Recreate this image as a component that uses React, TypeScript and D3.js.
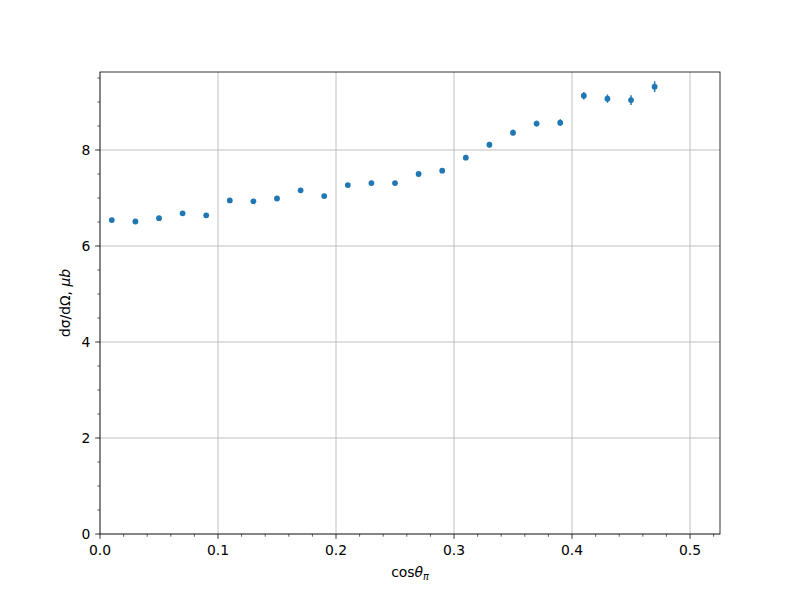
import React from "react";
import * as d3 from "d3";

const xValues = [0.01, 0.03, 0.05, 0.07, 0.09, 0.11, 0.13, 0.15, 0.17, 0.19, 0.21, 0.23, 0.25, 0.27, 0.29, 0.31, 0.33, 0.35, 0.37, 0.39, 0.41, 0.43, 0.45, 0.47];
const yValues = [6.54, 6.51, 6.58, 6.68, 6.64, 6.95, 6.93, 6.99, 7.16, 7.04, 7.27, 7.31, 7.31, 7.50, 7.57, 7.84, 8.11, 8.36, 8.55, 8.57, 9.13, 9.07, 9.04, 9.32];
const yErrors = [0.03, 0.03, 0.03, 0.03, 0.03, 0.03, 0.03, 0.03, 0.04, 0.04, 0.04, 0.04, 0.04, 0.05, 0.05, 0.05, 0.06, 0.06, 0.06, 0.07, 0.08, 0.085, 0.1, 0.11];
const xTicks = [0, 0.1, 0.2, 0.3, 0.4, 0.5];
const yTicks = [0, 2, 4, 6, 8];

const W = 800, H = 600;
const L = 100, R = 720, T = 72, B = 534;
const FONT = "DejaVu Sans, sans-serif";
const FS = 13.9;
const BLUE = "#1f77b4";

export default function App() {
  const x = d3.scaleLinear().domain([0, 0.5254]).range([L, R]);
  const y = d3.scaleLinear().domain([0, 9.625]).range([B, T]);
  const xMinor = d3.range(0, 0.525, 0.02).filter((v) => Math.abs(v * 10 - Math.round(v * 10)) > 1e-6);
  const yMinor = d3.range(0, 9.6, 0.5).filter((v) => Math.abs(v / 2 - Math.round(v / 2)) > 1e-6);
  const majorLen = 4.86, minorLen = 2.78;
  return (
    <div style={{ position: "absolute", left: 0, top: 0 }}>
      <svg width={W} height={H} style={{ display: "block", background: "#fff" }}>
        <rect x={0} y={0} width={W} height={H} fill="#fff" />
        {/* grid */}
        {xTicks.map((t) => (
          <line key={"gx" + t} x1={x(t)} x2={x(t)} y1={T} y2={B} stroke="#b0b0b0" strokeWidth={0.8} />
        ))}
        {yTicks.map((t) => (
          <line key={"gy" + t} x1={L} x2={R} y1={y(t)} y2={y(t)} stroke="#b0b0b0" strokeWidth={0.8} />
        ))}
        {/* error bars */}
        {xValues.map((xv, i) => (
          <line key={"e" + i} x1={x(xv)} x2={x(xv)} y1={y(yValues[i] - yErrors[i])} y2={y(yValues[i] + yErrors[i])} stroke={BLUE} strokeWidth={1.5} />
        ))}
        {xValues.map((xv, i) => (
          <circle key={"p" + i} cx={x(xv)} cy={y(yValues[i])} r={2.9} fill={BLUE} />
        ))}
        {/* spines */}
        <rect x={L} y={T} width={R - L} height={B - T} fill="none" stroke="#000" strokeWidth={0.8} />
        {/* x ticks */}
        {xTicks.map((t) => (
          <g key={"xt" + t}>
            <line x1={x(t)} x2={x(t)} y1={B} y2={B + majorLen} stroke="#000" strokeWidth={0.8} />
            <text x={x(t)} y={B + majorLen + 4.86 + 11} textAnchor="middle" fontFamily={FONT} fontSize={FS}>{t.toFixed(1)}</text>
          </g>
        ))}
        {xMinor.map((t) => (
          <line key={"xm" + t} x1={x(t)} x2={x(t)} y1={B} y2={B + minorLen} stroke="#000" strokeWidth={0.6} />
        ))}
        {/* y ticks */}
        {yTicks.map((t) => (
          <g key={"yt" + t}>
            <line x1={L - majorLen} x2={L} y1={y(t)} y2={y(t)} stroke="#000" strokeWidth={0.8} />
            <text x={L - majorLen - 4.86} y={y(t) + 5} textAnchor="end" fontFamily={FONT} fontSize={FS}>{t}</text>
          </g>
        ))}
        {yMinor.map((t) => (
          <line key={"ym" + t} x1={L - minorLen} x2={L} y1={y(t)} y2={y(t)} stroke="#000" strokeWidth={0.6} />
        ))}
        {/* x label */}
        <text x={(L + R) / 2} y={577} textAnchor="middle" fontFamily={FONT} fontSize={FS}>
          cos<tspan fontStyle="italic">θ</tspan><tspan fontStyle="italic" fontSize={FS * 0.7} dy={3}>π</tspan>
        </text>
        {/* y label */}
        <text transform={`translate(70,${(T + B) / 2}) rotate(-90)`} textAnchor="middle" fontFamily={FONT} fontSize={FS}>
          dσ/dΩ, <tspan fontStyle="italic">μb</tspan>
        </text>
      </svg>
    </div>
  );
}
